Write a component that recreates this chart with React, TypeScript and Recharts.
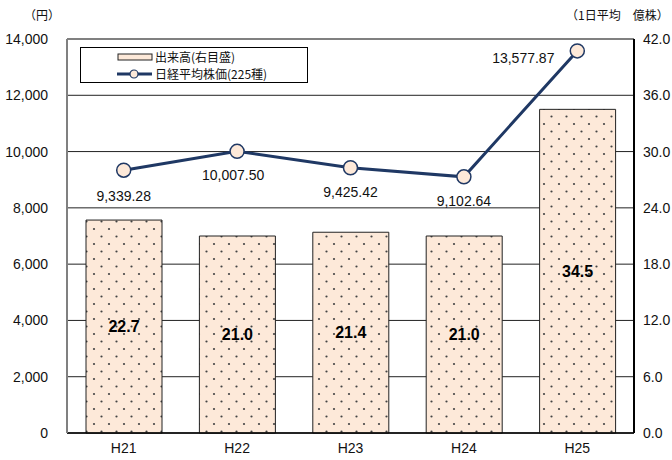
import { ComposedChart, Bar, Line, XAxis, YAxis, CartesianGrid, LabelList, Legend, ReferenceLine } from "recharts";

const years = ["H21", "H22", "H23", "H24", "H25"];
const volume = [22.7, 21.0, 21.4, 21.0, 34.5];
const nikkei = [9339.28, 10007.5, 9425.42, 9102.64, 13577.87];
const leftTicks = [0, 2000, 4000, 6000, 8000, 10000, 12000, 14000];
const rightTicks = [0, 6, 12, 18, 24, 30, 36, 42];

const data = years.map((y, i) => ({ year: y, volume: volume[i], nikkei: nikkei[i] }));

const NAVY = "#1f3864";
const PEACH = "#fde9d9";
const NUM_FONT = "'Liberation Sans', Arial, sans-serif";
const JP_FONT = "'Noto Sans CJK JP', sans-serif";

// where each line value label sits relative to its point
const nikkeiLabelShift = [
  { dx: 0, dy: 26 },
  { dx: -4, dy: 24 },
  { dx: 0, dy: 24 },
  { dx: 0, dy: 24 },
  { dx: -54, dy: 7 },
];

function NikkeiLabel(props: any) {
  const { x, y, value, index } = props;
  const s = nikkeiLabelShift[index] ?? { dx: 0, dy: 24 };
  return (
    <text x={x + s.dx} y={y + s.dy} textAnchor="middle" dominantBaseline="central" fontSize={14} fontFamily={NUM_FONT} fill="#111">
      {Number(value).toLocaleString("en-US", { minimumFractionDigits: 2, maximumFractionDigits: 2 })}
    </text>
  );
}

function LegendBox() {
  const row = { display: "flex", alignItems: "center", height: 17, paddingLeft: 36, lineHeight: "17px" } as const;
  return (
    <div style={{ width: 228, height: 36, border: "1px solid #000", background: "#fff", fontFamily: JP_FONT, fontSize: 12, color: "#111", boxSizing: "border-box", paddingTop: 0 }}>
      <div style={row}>
        <svg width={38} height={10}>
          <rect x={1} y={2} width={34} height={6} fill={PEACH} stroke="#222" strokeWidth={1} />
        </svg>
        <span>出来高(右目盛)</span>
      </div>
      <div style={row}>
        <svg width={38} height={12}>
          <line x1={0} y1={6} x2={35} y2={6} stroke={NAVY} strokeWidth={3} />
          <circle cx={17} cy={6} r={4} fill={PEACH} stroke={NAVY} strokeWidth={1.2} />
        </svg>
        <span>日経平均株価(225種)</span>
      </div>
    </div>
  );
}

export default function App() {
  return (
    <div style={{ position: "absolute", left: 0, top: 0, width: 672, height: 460, background: "#fff", overflow: "hidden" }}>
      <div style={{ position: "absolute", left: 24, top: 6, fontFamily: JP_FONT, fontSize: 12, color: "#111" }}>（円）</div>
      <div style={{ position: "absolute", left: 566, top: 6, fontFamily: JP_FONT, fontSize: 12, color: "#111", whiteSpace: "nowrap" }}>（1日平均　億株）</div>
      <ComposedChart width={672} height={460} data={data} margin={{ top: 39, right: 0, bottom: 0, left: 0 }}>
        <defs>
          <pattern id="dots" width={15} height={15} patternUnits="userSpaceOnUse">
            <rect width={15} height={15} fill={PEACH} />
            <circle cx={4} cy={4} r={1.1} fill="#444" />
            <circle cx={11.5} cy={11.5} r={1.1} fill="#444" />
          </pattern>
        </defs>
        <CartesianGrid vertical={false} stroke="#222" strokeWidth={1} yAxisId="left" />
        <XAxis
          dataKey="year"
          height={27}
          tickLine={false}
          axisLine={{ stroke: "#000", strokeWidth: 1.5 }}
          tick={{ fontSize: 14, fontFamily: NUM_FONT, fill: "#111" }}
          tickMargin={4}
        />
        <YAxis
          yAxisId="left"
          width={67}
          domain={[0, 14000]}
          ticks={leftTicks}
          interval={0}
          tickLine={false}
          tickMargin={13}
          axisLine={{ stroke: "#808080", strokeWidth: 2 }}
          tick={{ fontSize: 14, fontFamily: NUM_FONT, fill: "#111" }}
          tickFormatter={(v: number) => v.toLocaleString("en-US")}
        />
        <YAxis
          yAxisId="right"
          orientation="right"
          width={38}
          domain={[0, 42]}
          ticks={rightTicks}
          interval={0}
          tickLine={false}
          tickMargin={3}
          axisLine={{ stroke: "#000", strokeWidth: 2 }}
          tick={{ fontSize: 14, fontFamily: NUM_FONT, fill: "#111", textAnchor: "start" }}
          tickFormatter={(v: number) => v.toFixed(1)}
        />
        <ReferenceLine yAxisId="left" y={14000} stroke="#808080" strokeWidth={2} />
        <Legend
          layout="vertical"
          align="center"
          verticalAlign="middle"
          wrapperStyle={{ position: "absolute", left: 80, top: 47, width: "auto" }}
          content={() => <LegendBox />}
        />
        <Bar yAxisId="right" dataKey="volume" barSize={76} fill="url(#dots)" stroke="#222" strokeWidth={1} isAnimationActive={false}>
          <LabelList
            dataKey="volume"
            position="center"
            formatter={(v: any) => Number(v).toFixed(1)}
            style={{ fontSize: 16, fontWeight: 700, fontFamily: NUM_FONT, fill: "#000" }}
          />
        </Bar>
        <Line
          yAxisId="left"
          dataKey="nikkei"
          stroke={NAVY}
          strokeWidth={3}
          dot={{ r: 7, fill: PEACH, stroke: NAVY, strokeWidth: 1.5 }}
          activeDot={false}
          isAnimationActive={false}
        >
          <LabelList dataKey="nikkei" content={<NikkeiLabel />} />
        </Line>
      </ComposedChart>
    </div>
  );
}
